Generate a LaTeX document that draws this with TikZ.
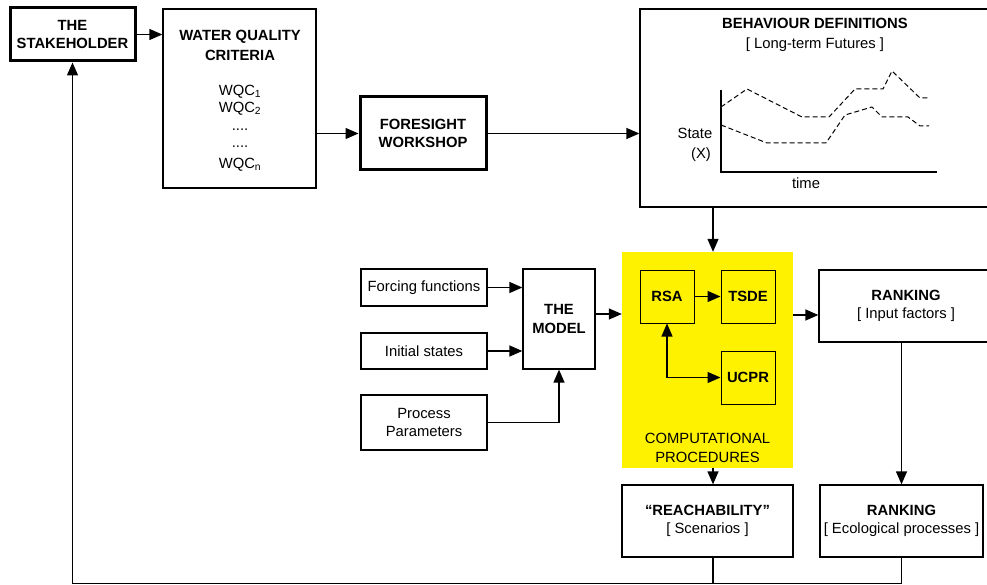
\documentclass[tikz,border=0pt]{standalone}
\usepackage{fontspec}
\setmainfont{Liberation Sans}
\usetikzlibrary{arrows.meta}
\begin{document}
\begin{tikzpicture}[x=1pt,y=-1pt,
  font=\fontsize{14.8}{18.5}\selectfont,
  box/.style={draw, line width=1.3pt, inner sep=0pt, align=center, fill=white},
  thickbox/.style={box, line width=3pt, font=\fontsize{14.8}{18.5}\selectfont\bfseries},
  ybox/.style={draw, line width=1pt, inner sep=0pt, fill=yellow, minimum width=54pt, minimum height=53pt, font=\fontsize{14.8}{18.5}\selectfont\bfseries},
  txt/.style={inner sep=0pt, anchor=base},
  conn/.style={line width=1.3pt, -{Triangle[length=13pt,width=11pt]}},
  dconn/.style={line width=1.3pt, {Triangle[length=13pt,width=11pt]}-{Triangle[length=13pt,width=11pt]}},
  plain/.style={line width=1.3pt},
  curve/.style={line width=1pt, dash pattern=on 5pt off 3pt}]
\useasboundingbox (0,0) rectangle (987,585);
\clip (0,0) rectangle (987,585);
\fill[white] (0,0) rectangle (987,585);

% top row
\node[thickbox, minimum width=125pt, minimum height=53pt] (stake) at (72.5,34.5) {THE\\STAKEHOLDER};
\node[box, minimum width=153pt, minimum height=179pt] (wqc) at (239.5,98.5) {};
\node[txt, font=\fontsize{14.8}{18.5}\selectfont\bfseries] (wqct1) at (240,40.5) {WATER QUALITY};
\node[txt, font=\fontsize{14.8}{18.5}\selectfont\bfseries] (wqct2) at (240,60.5) {CRITERIA};
\node[txt] (wqc1) at (240,95.5) {WQC\textsubscript{1}};
\node[txt] (wqc2) at (240,112.5) {WQC\textsubscript{2}};
\node[txt] (wqcd1) at (240,130.5) {....};
\node[txt] (wqcd2) at (240,147.5) {....};
\node[txt] (wqcn) at (240,168.5) {WQC\textsubscript{n}};

\node[thickbox, minimum width=126pt, minimum height=73pt] (fore) at (423,133.5) {FORESIGHT\\WORKSHOP};

\node[box, minimum width=350pt, minimum height=198pt] (behav) at (815,108) {};
\node[txt, font=\fontsize{14.8}{18.5}\selectfont\bfseries] (behavt) at (815,28.5) {BEHAVIOUR DEFINITIONS};
\node[txt] (behavs) at (815,48.5) {[ Long-term Futures ]};
\node[txt] (state) at (695,138.5) {State};
\node[txt] (statex) at (701,158.5) {(X)};
\node[txt] (time) at (806,189) {time};
\draw[plain] (721,90) -- (721,172) -- (937,172);
\draw[curve] (721,107) -- (747,89) -- (802,117) -- (829,117) -- (855,89) -- (883,89) -- (892,71) -- (920,98) -- (929,98);
\draw[curve] (721,125) -- (767,143) -- (826,143) -- (845,115) -- (872,107) -- (882,117) -- (908,117) -- (920,126) -- (929,126);

% middle
\node[box, minimum width=126pt, minimum height=37pt] (forcing) at (424,287.5) {Forcing functions};
\node[box, minimum width=126pt, minimum height=36pt] (initial) at (424,351) {Initial states};
\node[box, minimum width=126pt, minimum height=55pt] (process) at (424,422.5) {Process\\Parameters};
\node[box, minimum width=72pt, minimum height=100pt, font=\fontsize{14.8}{18.5}\selectfont\bfseries] (model) at (559,319) {THE\\MODEL};

\node[fill=yellow, inner sep=0pt, minimum width=171pt, minimum height=216pt] (yellow) at (707.5,360) {};
\node[ybox] (rsa) at (667,296.5) {RSA};
\node[ybox] (tsde) at (748,296.5) {TSDE};
\node[ybox] (ucpr) at (748,377.5) {UCPR};
\node[txt] (comp1) at (707.5,443.5) {COMPUTATIONAL};
\node[txt] (comp2) at (707.5,462) {PROCEDURES};

\node[box, minimum width=174pt, minimum height=72pt] (rankin) at (906,306) {\textbf{RANKING}\\{[} Input factors ]};

% bottom
\node[box, minimum width=171pt, minimum height=72pt] (reach) at (707.5,521) {\textbf{“REACHABILITY”}\\{[} Scenarios ]};
\node[box, minimum width=163pt, minimum height=72pt] (rankeco) at (901.5,521) {\textbf{RANKING}\\{[} Ecological processes ]};

\coordinate (col) at (713,0);
\coordinate (bot) at (0,583.5);
\coordinate (rin) at (0,315);

% connectors
\draw[conn] (stake.east) -- (stake.east -| wqc.west);
\draw[conn] (wqc.east |- fore.west) -- (fore.west);
\draw[conn] (fore.east) -- (fore.east -| behav.west);
\draw[conn] (behav.south -| col) -- (yellow.north -| col);
\draw[conn] (forcing.east) -- (forcing.east -| model.west);
\draw[conn] (initial.east) -- (initial.east -| model.west);
\draw[conn] (process.east) -| (model.south);
\draw[conn] ([yshift=5pt]model.east) -- ([yshift=5pt]model.east -| yellow.west);
\draw[conn] (rsa) -- (tsde);
\draw[dconn] (rsa.south) |- (ucpr.west);
\draw[conn] (yellow.east |- rin) -- (rankin.west |- rin);
\draw[conn] (yellow.south -| col) -- (reach.north -| col);
\draw[conn] (rankin.south -| rankeco.north) -- (rankeco.north);
\draw[plain] (reach.south -| col) -- (col |- bot);
\draw[conn] (rankeco.south) -- (rankeco.south |- bot) -| (stake.south);
\end{tikzpicture}
\end{document}
